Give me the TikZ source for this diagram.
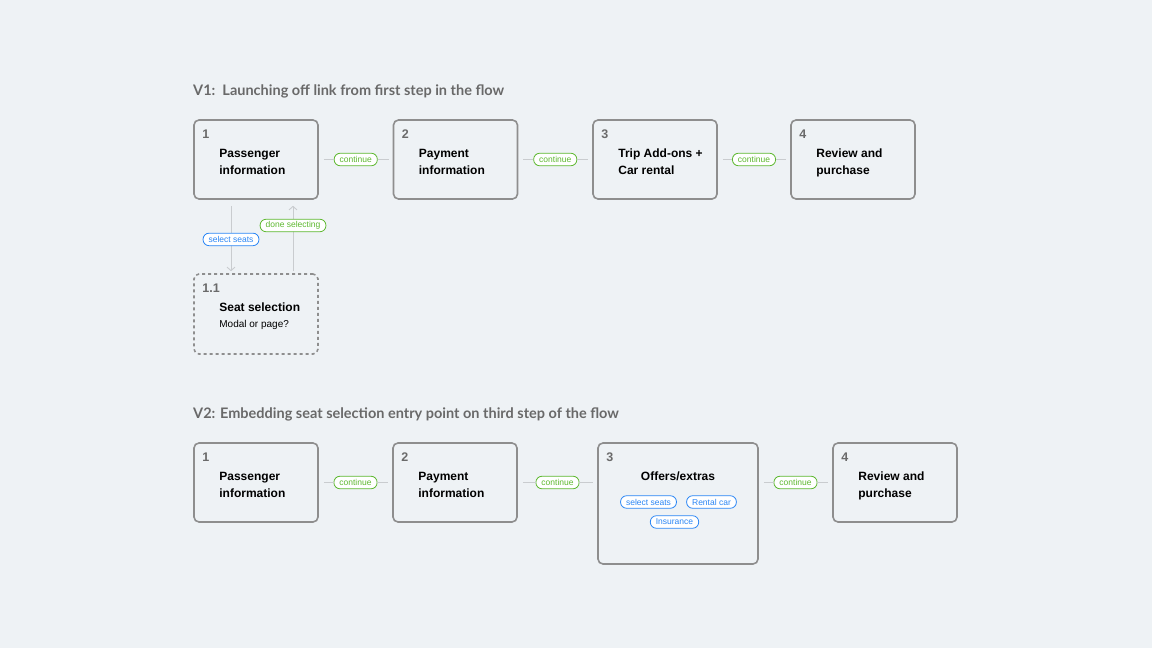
\documentclass[tikz,border=0pt]{standalone}
\usepackage{fontspec}
\setmainfont{Liberation Sans}
\newfontfamily\headfont{Lato}
\usetikzlibrary{arrows.meta, calc, positioning}

\definecolor{bg}{HTML}{EEF2F5}
\definecolor{boxgray}{HTML}{8E8E8E}
\definecolor{numgray}{HTML}{6A6A6A}
\definecolor{headgray}{HTML}{696969}
\definecolor{linegray}{HTML}{C9CCCF}
\definecolor{pillgreen}{HTML}{5DB82F}
\definecolor{pillblue}{HTML}{2A86F5}

\begin{document}
\begin{tikzpicture}[x=1pt, y=-1pt, >={Straight Barb[length=3.5pt, width=8pt]}]
  \tikzset{
   box/.style={draw=boxgray, line width=1.6pt, rounded corners=5pt, fill=bg, minimum width=124pt, minimum height=79pt, inner sep=0pt},
   num/.style={anchor=north west, inner sep=0pt, text=numgray, font=\bfseries\fontsize{12.5}{13}\selectfont},
   boxtext/.style={anchor=north west, inner sep=0pt, align=left, font=\bfseries\fontsize{12}{17}\selectfont},
   head/.style={anchor=base west, inner sep=0pt, text=headgray, font=\headfont\bfseries\fontsize{14.5}{15}\selectfont},
   pill/.style={draw, fill=white, rounded corners=6pt, line width=0.8pt, minimum height=12.5pt, inner xsep=5.5pt, inner ysep=0pt, font=\fontsize{8.5}{9}\selectfont},
   go/.style={pill, draw=pillgreen, text=pillgreen},
   pick/.style={pill, draw=pillblue, text=pillblue},
   link/.style={draw=linegray, line width=0.9pt},
  }
  \fill [bg] (0, 0) rectangle (1152, 648);

  \node [head] (h1) at (193, 95.5) {V1:\ \ Launching off link from first step in the flow};
  \node [head] (h2) at (193, 418.5) {V2: Embedding seat selection entry point on third step of the flow};

  \foreach \n/\px/\la/\lb in {
   1/256/Passenger/information,
   2/455.5/Payment/information,
   3/655/Trip Add-ons +/Car rental,
   4/853/Review and/purchase
  } {
   \node [box] (a\n) at (\px, 159.5) {};
   \node [num] at ([shift={(9, 10)}]a\n.north west) {\n};
   \node [boxtext] at ([shift={(26, 29.5)}]a\n.north west) {\la\\\lb};
  }

  \foreach \n/\px/\la/\lb in {
   1/256/Passenger/information,
   2/455/Payment/information,
   4/895/Review and/purchase
  } {
   \node [box] (b\n) at (\px, 482.5) {};
   \node [num] at ([shift={(9, 10)}]b\n.north west) {\n};
   \node [boxtext] at ([shift={(26, 29.5)}]b\n.north west) {\la\\\lb};
  }

  \node [box, minimum width=160pt, minimum height=121pt] (b3) at (678, 503.5) {};
  \node [num] at ([shift={(9, 10)}]b3.north west) {3};
  \node [boxtext, anchor=north] (o3) at ([shift={(0, 29)}]b3.north) {Offers/extras};
  \node [pick] (p1) at (648.5, 502) {select seats};
  \node [pick] (p2) at (711.5, 502) {Rental car};
  \node [pick] (p3) at (674.5, 522) {Insurance};

  \node [box, dashed, minimum height=80pt] (s1) at (256, 314) {};
  \node [num] at ([shift={(9, 10)}]s1.north west) {1.1};
  \node [boxtext] at ([shift={(26, 29.5)}]s1.north west) {Seat selection\\[-1pt]{\normalfont\fontsize{10}{12}\selectfont Modal or page?}};

  \foreach \r/\i/\j/\k in {a/1/2/1, a/2/3/2, a/3/4/3, b/1/2/4, b/2/3/5, b/3/4/6} {
   \path (\r\i.east |- \r1) -- node [go] (c\k) {continue} (\r\j.west |- \r1);
   \draw [link, shorten <=5pt] (\r\i.east |- c\k) -- (c\k);
   \draw [link, shorten >=4pt] (c\k) -- (c\k -| \r\j.west);
  }

  \draw [link, ->, shorten <=6pt, shorten >=2pt] ([xshift=-25pt]a1.south) -- node [pick, pos=.54] (d1) {select seats} ([xshift=-25pt]s1.north);
  \draw [link, ->, shorten <=2pt, shorten >=6pt] ([xshift=37pt]s1.north) -- node [go, pos=.65] (d2) {done selecting} ([xshift=37pt]a1.south);
\end{tikzpicture}
\end{document}
